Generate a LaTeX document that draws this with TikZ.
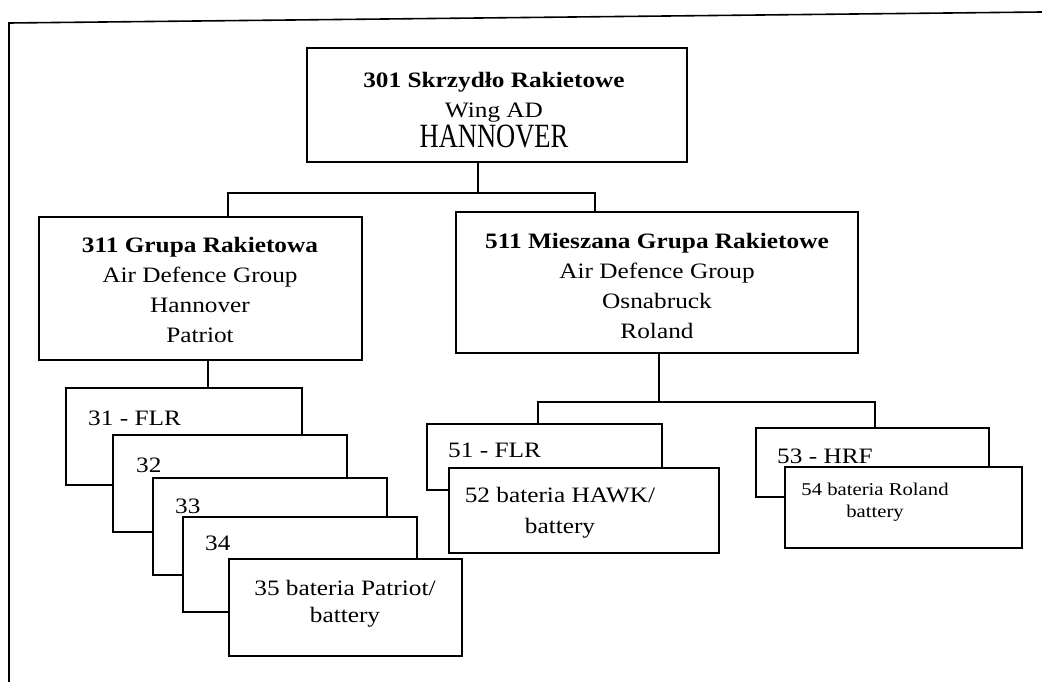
\documentclass[tikz,border=0pt]{standalone}
\usepackage{fontspec}
\setmainfont{Liberation Serif}[FakeStretch=1.15]
\newfontfamily\condfont{Liberation Serif}[FakeStretch=0.78]
\tikzset{
  box/.style={draw=black, line width=1.6pt, fill=white, rectangle, inner sep=0pt, outer sep=0pt, anchor=north west},
  txt/.style={inner sep=0pt, align=center, font=\fontsize{22}{30}\selectfont, anchor=base},
  lbl/.style={inner sep=0pt, font=\fontsize{22}{30}\selectfont, anchor=base west},
  conn/.style={draw=black, line width=1.6pt},
}
\begin{document}
\begin{tikzpicture}[x=1pt,y=-1pt]
\useasboundingbox[fill=white] (0,0) rectangle (1042,682);
% frame
\coordinate (fa) at (9,682);
\coordinate (fb) at (9,23);
\coordinate (fc) at (1042,12);
\draw[conn] (fa) -- (fb) -- (fc);

% boxes (top levels)
\node[box, minimum width=380pt, minimum height=114pt] (n301) at (307,48) {};
\node[box, minimum width=323pt, minimum height=143pt] (n311) at (39,217) {};
\node[box, minimum width=402pt, minimum height=141pt] (n511) at (456,212) {};

% connectors
\coordinate (jA) at (478,193);
\coordinate (jL) at (228,193);
\coordinate (jR) at (595,193);
\draw[conn] (n301.south -| jA) -- (jA);
\draw[conn] (n311.north -| jL) -- (jL) -- (jR) -- (n511.north -| jR);

\coordinate (k311) at (208,360);
\coordinate (jB) at (659,402);
\coordinate (jBL) at (538,402);
\coordinate (jBR) at (875,402);
\draw[conn] (n511.south -| jB) -- (jB);

% left stack
\node[box, minimum width=236pt, minimum height=97pt] (n31) at (66,388) {};
\draw[conn] (k311) -- (n31.north -| k311);
\node[box, minimum width=234pt, minimum height=97pt] (n32) at (113,435) {};
\node[box, minimum width=234pt, minimum height=97pt] (n33) at (153,478) {};
\node[box, minimum width=234pt, minimum height=95pt] (n34) at (183,517) {};
\node[box, minimum width=233pt, minimum height=97pt] (n35) at (229,559) {};

% right stacks
\node[box, minimum width=235pt, minimum height=66pt] (n51) at (427,424) {};
\node[box, minimum width=270pt, minimum height=85pt] (n52) at (449,468) {};
\node[box, minimum width=233pt, minimum height=69pt] (n53) at (756,428) {};
\node[box, minimum width=237pt, minimum height=81pt] (n54) at (785,467) {};
\draw[conn] (n51.north -| jBL) -- (jBL) -- (jBR) -- (n53.north -| jBR);

% texts (base anchor = baseline of the last line)
\node[txt] (t301) at (494,148) {\textbf{301 Skrzydło Rakietowe}\\Wing AD\\{\condfont\fontsize{34}{30}\selectfont HANNOVER}};
\node[txt] (t311) at (200,342) {\textbf{311 Grupa Rakietowa}\\Air Defence Group\\Hannover\\Patriot};
\node[txt] (t511) at (657,338) {\textbf{511 Mieszana Grupa Rakietowe}\\Air Defence Group\\Osnabruck\\Roland};
\node[lbl] (t31) at (88,425) {31 - FLR};
\node[lbl] (t32) at (136,472) {32};
\node[lbl] (t33) at (175,513) {33};
\node[lbl] (t34) at (205,550) {34};
\node[txt, font=\fontsize{22}{27}\selectfont] (t35) at (345,622) {35 bateria Patriot/\\battery};
\node[lbl] (t51) at (448,457) {51 - FLR};
\node[txt, font=\fontsize{22}{31}\selectfont] (t52) at (560,533) {52 bateria HAWK/\\battery};
\node[lbl] (t53) at (777,463) {53 - HRF};
\node[txt, font=\fontsize{18}{22}\selectfont] (t54) at (875,517) {54 bateria Roland\\battery};
\end{tikzpicture}
\end{document}
